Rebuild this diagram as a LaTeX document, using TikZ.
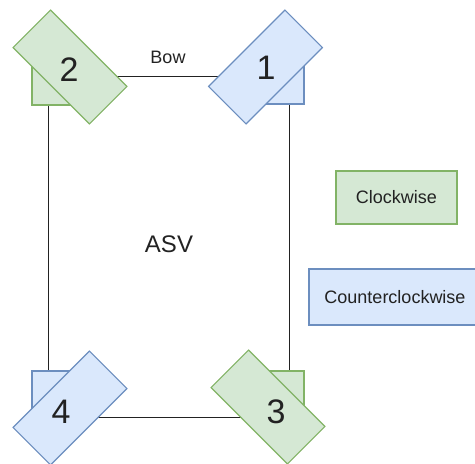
\documentclass[tikz,border=0pt]{standalone}
\usepackage{fontspec}
\setmainfont{Liberation Sans}
\definecolor{gfill}{HTML}{D5E8D4}
\definecolor{gline}{HTML}{82B366}
\definecolor{bfill}{HTML}{DAE8FC}
\definecolor{bline}{HTML}{6C8EBF}
\definecolor{ink}{HTML}{222222}
\tikzset{
  hull/.style={draw=ink, line width=1pt},
  gbox/.style={draw=gline, fill=gfill, line width=1.1pt, inner sep=0pt},
  bbox/.style={draw=bline, fill=bfill, line width=1.1pt, inner sep=0pt},
  motor/.style={minimum width=108pt, minimum height=53pt},
  sq/.style={minimum size=40pt},
  digit/.style={text=ink, font=\fontsize{34}{36}\selectfont, inner sep=0pt},
  lbl/.style={text=ink, font=\fontsize{18}{20}\selectfont, inner sep=0pt},
  big/.style={text=ink, font=\fontsize{24}{26}\selectfont, inner sep=0pt}
}
\begin{document}
\begin{tikzpicture}[x=1pt,y=-1pt]
\useasboundingbox (0,0) rectangle (475,464);
\clip (0,0) rectangle (475,464);
% hull corners
\coordinate (c2) at (48,76);
\coordinate (c1) at (289,76);
\coordinate (c3) at (289,417);
\coordinate (c4) at (48,417);
\draw[hull] (c2) -- (c1) -- (c3) -- (c4) -- cycle;
% squares behind motors
\node[gbox, sq] (s2) at (52,85) {};
\node[bbox, sq] (s1) at (284,84) {};
\node[bbox, sq] (s4) at (52,391) {};
\node[gbox, sq] (s3) at (284,391) {};
% rotated motor boxes
\node[gbox, motor, rotate=-45] (m2) at (70,67) {};
\node[bbox, motor, rotate=45] (m1) at (265.5,67) {};
\node[bbox, motor, rotate=45] (m4) at (70,408) {};
\node[gbox, motor, rotate=-45] (m3) at (268,407) {};
% digits
\node[digit] (t2) at (69,70) {2};
\node[digit] (t1) at (266,68) {1};
\node[digit] (t4) at (61,412) {4};
\node[digit] (t3) at (276,412) {3};
% labels
\node[lbl] (bow) at (168,57) {Bow};
\node[big] (asv) at (169,244) {ASV};
% legend
\node[gbox, minimum width=121pt, minimum height=53pt, lbl] (cw) at (396.5,197.5) {Clockwise};
\node[bbox, minimum width=172pt, minimum height=56pt, lbl] (ccw) at (395,297) {Counterclockwise};
\end{tikzpicture}
\end{document}
